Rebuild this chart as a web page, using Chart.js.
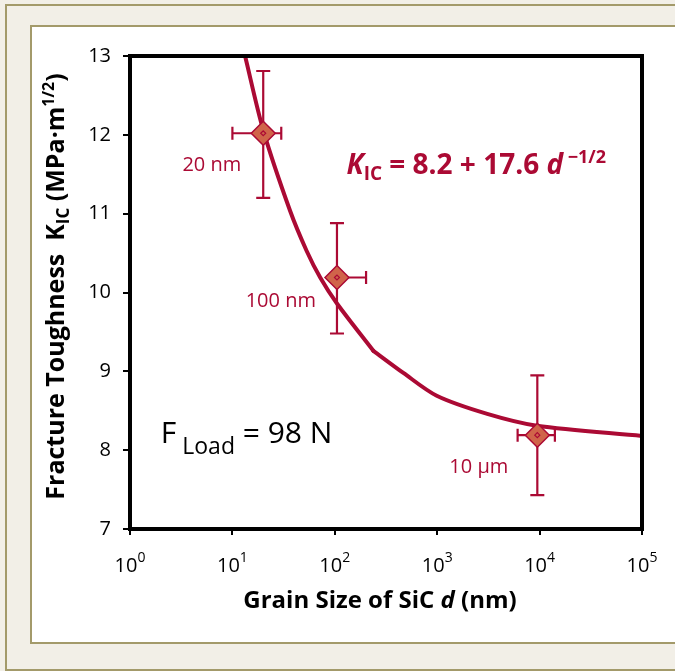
<!DOCTYPE html>
<html>
<head>
<meta charset="utf-8">
<script src="https://cdn.jsdelivr.net/npm/chart.js@4/dist/chart.umd.min.js"></script>
<style>
  body { margin: 0; width: 675px; height: 671px; overflow: hidden; background: #f2efe7; position: relative; }
  .outer { position: absolute; left: 5px; top: 4px; width: 720px; height: 663px; border: 2px solid #a39a6a; }
  .panel { position: absolute; left: 30px; top: 25px; width: 700px; height: 615px; background: #fff; border: 2px solid #a39a6a; border-right: none; }
  canvas { position: absolute; left: 0; top: 0; }
</style>
</head>
<body>
<div class="outer"></div>
<div class="panel"></div>
<canvas id="chart" width="675" height="671"></canvas>
<script>
// measured points (grain size in nm, toughness in MPa·m^1/2)
const grainSize = [20, 105, 9500];
const toughness = [12.02, 10.19, 8.19];
const toughLow = [11.2, 9.48, 7.43];
const toughHigh = [12.81, 10.88, 8.95];
const sizeLow = [10, 105, 6100];
const sizeHigh = [30, 202, 14100];
const pointLabels = ['20 nm', '100 nm', '10 μm'];

// fitted curve (the drawn curve has a bend at ~240 nm)
const fitSize = [13.3, 20, 36.5, 53, 72, 105, 238, 467, 990, 3080, 9400, 100000];
const fitToughness = [13.0, 12.06, 11.04, 10.53, 10.19, 9.86, 9.26, 8.98, 8.69, 8.46, 8.31, 8.18];
const bendIndex = 6;

const xTicks = [1, 10, 100, 1000, 10000, 100000];
const yTicks = [7, 8, 9, 10, 11, 12, 13];

const RED = '#ab0a34';
const FILL = '#d0644a';
const FONT = "'Open Sans', sans-serif";

Chart.defaults.font.family = FONT;

// draw a row of text pieces with their own fonts / baseline shifts
function drawRuns(ctx, runs, x, y, align) {
  let total = 0;
  runs.forEach(r => { ctx.font = r.font; r.w = ctx.measureText(r.text).width; total += r.w; });
  let cx = align === 'center' ? x - total / 2 : align === 'right' ? x - total : x;
  ctx.textAlign = 'left';
  ctx.textBaseline = 'alphabetic';
  runs.forEach(r => { ctx.font = r.font; ctx.fillText(r.text, cx, y + (r.dy || 0)); cx += r.w; });
}

const errorBars = {
  id: 'errorBars',
  beforeDatasetDraw(chart, args) {
    if (args.index !== 1) return;
    const { ctx, scales: { x, y } } = chart;
    ctx.save();
    ctx.strokeStyle = RED;
    ctx.lineWidth = 2.2;
    grainSize.forEach((d, i) => {
      const px = x.getPixelForValue(d), py = y.getPixelForValue(toughness[i]);
      const y1 = y.getPixelForValue(toughHigh[i]), y2 = y.getPixelForValue(toughLow[i]);
      const x1 = x.getPixelForValue(sizeLow[i]), x2 = x.getPixelForValue(sizeHigh[i]);
      ctx.beginPath();
      ctx.moveTo(px, y1); ctx.lineTo(px, y2);
      ctx.moveTo(px - 7, y1); ctx.lineTo(px + 7, y1);
      ctx.moveTo(px - 7, y2); ctx.lineTo(px + 7, y2);
      ctx.moveTo(x1, py); ctx.lineTo(x2, py);
      if (sizeLow[i] < d) { ctx.moveTo(x1, py - 6.5); ctx.lineTo(x1, py + 6.5); }
      ctx.moveTo(x2, py - 6.5); ctx.lineTo(x2, py + 6.5);
      ctx.stroke();
    });
    ctx.restore();
  }
};

const annotations = {
  id: 'annotations',
  afterDraw(chart) {
    const { ctx, chartArea: a, scales: { x, y } } = chart;
    ctx.save();

    // plot frame
    ctx.strokeStyle = '#000';
    ctx.lineWidth = 4;
    ctx.strokeRect(a.left, a.top, a.right - a.left, a.bottom - a.top);

    // x tick labels 10^n
    ctx.fillStyle = '#000';
    xTicks.forEach(v => {
      drawRuns(ctx, [
        { text: '10', font: `20px ${FONT}` },
        { text: String(Math.round(Math.log10(v))), font: `14px ${FONT}`, dy: -10 }
      ], x.getPixelForValue(v), a.bottom + 43, 'center');
    });

    // x title
    drawRuns(ctx, [
      { text: 'Grain Size of SiC ', font: `bold 24px ${FONT}` },
      { text: 'd', font: `italic bold 24px ${FONT}` },
      { text: ' (nm)', font: `bold 24px ${FONT}` }
    ], (a.left + a.right) / 2 - 6, a.bottom + 79, 'center');

    // y title
    ctx.save();
    ctx.translate(64, (a.top + a.bottom) / 2 - 6);
    ctx.rotate(-Math.PI / 2);
    drawRuns(ctx, [
      { text: 'Fracture Toughness  K', font: `bold 25px ${FONT}` },
      { text: 'IC', font: `bold 17px ${FONT}`, dy: 5 },
      { text: ' (MPa·m', font: `bold 25px ${FONT}` },
      { text: '1/2', font: `bold 16px ${FONT}`, dy: -10 },
      { text: ')', font: `bold 25px ${FONT}` }
    ], 0, 0, 'center');
    ctx.restore();

    // point labels
    ctx.fillStyle = RED;
    const offsets = [[-22, 38], [-21, 29], [-29, 38]];
    pointLabels.forEach((t, i) => {
      const px = x.getPixelForValue(grainSize[i]), py = y.getPixelForValue(toughness[i]);
      drawRuns(ctx, [{ text: t, font: `20px ${FONT}` }], px + offsets[i][0], py + offsets[i][1], 'right');
    });

    // fit equation
    drawRuns(ctx, [
      { text: 'K', font: `italic bold 28px ${FONT}` },
      { text: 'IC', font: `bold 19px ${FONT}`, dy: 6 },
      { text: ' = 8.2 + 17.6 ', font: `bold 28px ${FONT}` },
      { text: 'd', font: `italic bold 28px ${FONT}` },
      { text: ' \u22121/2', font: `bold 18px ${FONT}`, dy: -11 }
    ], x.getPixelForValue(130), y.getPixelForValue(11.5), 'left');

    // load note
    ctx.fillStyle = '#000';
    drawRuns(ctx, [
      { text: 'F', font: `30px ${FONT}` },
      { text: ' Load', font: `23px ${FONT}`, dy: 11 },
      { text: ' = 98 N', font: `30px ${FONT}` }
    ], x.getPixelForValue(2), y.getPixelForValue(8.09), 'left');

    ctx.restore();
  }
};

const markerData = grainSize.map((d, i) => ({ x: d, y: toughness[i] }));
const fitPoints = fitSize.map((d, i) => ({ x: d, y: fitToughness[i] }));

const curveStyle = {
  showLine: true,
  borderColor: RED,
  borderWidth: 4,
  borderCapStyle: 'round',
  tension: 0.3,
  pointRadius: 0,
  order: 2
};

new Chart(document.getElementById('chart'), {
  type: 'scatter',
  data: {
    datasets: [
      {
        data: markerData,
        pointStyle: 'rectRot',
        pointRadius: 2.5,
        pointBorderWidth: 1.2,
        pointBackgroundColor: 'rgba(0,0,0,0)',
        pointBorderColor: RED,
        order: 0
      },
      {
        data: markerData,
        pointStyle: 'rectRot',
        pointRadius: 12,
        pointBorderWidth: 1.5,
        pointBackgroundColor: FILL,
        pointBorderColor: RED,
        order: 1
      },
      { ...curveStyle, data: fitPoints.slice(0, bendIndex + 1) },
      { ...curveStyle, data: fitPoints.slice(bendIndex) }
    ]
  },
  options: {
    responsive: false,
    animation: false,
    devicePixelRatio: 1,
    layout: { padding: { left: 0, top: 56, right: 33, bottom: 132 } },
    plugins: { legend: { display: false }, tooltip: { enabled: false } },
    scales: {
      x: {
        type: 'logarithmic',
        min: 1,
        max: 100000,
        afterBuildTicks: s => { s.ticks = xTicks.map(v => ({ value: v })); },
        afterFit: s => { s.height = 10; },
        ticks: { display: false },
        grid: { drawOnChartArea: false, tickLength: 6, color: '#000', lineWidth: 2 },
        border: { display: false }
      },
      y: {
        min: 7,
        max: 13,
        afterBuildTicks: s => { s.ticks = yTicks.map(v => ({ value: v })); },
        afterFit: s => { s.width = 130; },
        ticks: { color: '#000', font: { size: 20 }, padding: 12 },
        grid: { drawOnChartArea: false, tickLength: 7, color: '#000', lineWidth: 2 },
        border: { display: false }
      }
    }
  },
  plugins: [errorBars, annotations]
});
</script>
</body>
</html>
